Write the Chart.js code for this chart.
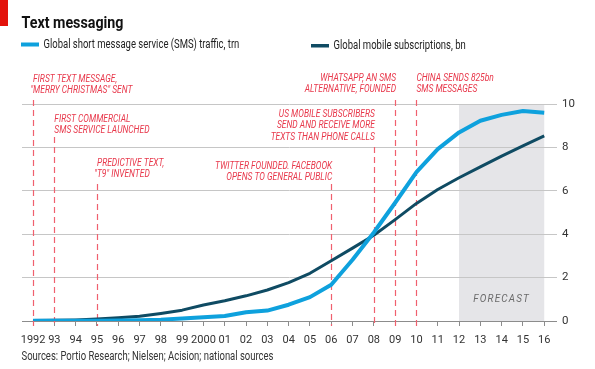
<!DOCTYPE html>
<html>
<head>
<meta charset="utf-8">
<script src="https://cdn.jsdelivr.net/npm/chart.js@4.4.1/dist/chart.umd.min.js"></script>
<style>
  html, body { margin: 0; padding: 0; background: #fff; }
  #wrap { position: relative; width: 595px; height: 369px; }
</style>
</head>
<body>
<div id="wrap"><canvas id="myChart" width="595" height="369"></canvas></div>
<script>
// data
const years = ['1992', '93', '94', '95', '96', '97', '98', '99', '2000', '01', '02', '03', '04',
  '05', '06', '07', '08', '09', '10', '11', '12', '13', '14', '15', '16'];
const smsTraffic = [0.01, 0.01, 0.01, 0.01, 0.02, 0.03, 0.06, 0.12, 0.17, 0.23, 0.4, 0.48, 0.75,
  1.1, 1.67, 2.82, 4.08, 5.45, 6.86, 7.92, 8.69, 9.23, 9.5, 9.68, 9.6];
const subscriptions = [0.02, 0.03, 0.05, 0.09, 0.15, 0.22, 0.35, 0.5, 0.74, 0.93, 1.16, 1.43, 1.77,
  2.2, 2.78, 3.36, 3.95, 4.67, 5.42, 6.06, 6.6, 7.1, 7.6, 8.07, 8.53];
const yTicks = [0, 2, 4, 6, 8, 10];
const forecastFrom = 20; // 2012
const forecastTo = 24;   // 2016

const events = [
  { year: 0, align: 'left', lines: ['FIRST TEXT MESSAGE,', '"MERRY CHRISTMAS" SENT'] },
  { year: 1, align: 'left', lines: ['FIRST COMMERCIAL', 'SMS SERVICE LAUNCHED'] },
  { year: 3, align: 'left', lines: ['PREDICTIVE TEXT,', '"T9" INVENTED'] },
  { year: 14, align: 'right', lines: ['TWITTER FOUNDED. FACEBOOK', 'OPENS TO GENERAL PUBLIC'] },
  { year: 16, align: 'right', lines: ['US MOBILE SUBSCRIBERS', 'SEND AND RECEIVE MORE', 'TEXTS THAN PHONE CALLS'] },
  { year: 17, align: 'right', lines: ['WHATSAPP, AN SMS', 'ALTERNATIVE, FOUNDED'] },
  { year: 18, align: 'left', lines: ['CHINA SENDS 825bn', 'SMS MESSAGES'] }
];
// where each dashed line starts and where its first text line sits
const eventLineTop = [100, 137, 184, 184, 147, 100, 100];
const eventTextY = [79, 119, 163, 166, 114, 78, 78];

const FONT = "Roboto, 'DejaVu Sans', sans-serif";
const SMS_COL = '#0ea1dd';
const SUB_COL = '#0f4b63';
const RED = '#e8384b';

// the original face is a narrow one, so squeeze text sideways
function squeezed(ctx, text, x, y, sx, align) {
  ctx.save();
  ctx.translate(x, y);
  ctx.scale(sx, 1);
  ctx.textAlign = align || 'left';
  ctx.fillText(text, 0, 0);
  ctx.restore();
}

const decor = {
  id: 'decor',
  beforeDraw(chart) {
    const ctx = chart.ctx, x = chart.scales.x, y = chart.scales.y;
    ctx.save();
    ctx.fillStyle = '#e5e5e8';
    const x0 = x.getPixelForValue(forecastFrom), x1 = x.getPixelForValue(forecastTo);
    const y0 = y.getPixelForValue(10), y1 = y.getPixelForValue(0);
    ctx.fillRect(x0, y0, x1 - x0, y1 - y0);
    ctx.restore();
  },
  beforeDatasetsDraw(chart) {
    const ctx = chart.ctx, x = chart.scales.x, y = chart.scales.y;
    ctx.save();
    ctx.strokeStyle = '#f0606e';
    ctx.lineWidth = 1.2;
    ctx.setLineDash([6, 4]);
    events.forEach((ev, i) => {
      const px = Math.round(x.getPixelForValue(ev.year)) + 0.5;
      ctx.beginPath();
      ctx.moveTo(px, eventLineTop[i]);
      ctx.lineTo(px, y.getPixelForValue(0) + 5);
      ctx.stroke();
    });
    ctx.restore();
  },
  afterDraw(chart) {
    const ctx = chart.ctx, x = chart.scales.x;
    ctx.save();
    // red tab + title
    ctx.fillStyle = '#e3120b';
    ctx.fillRect(0, 0, 8, 26);
    ctx.fillStyle = '#111';
    ctx.font = 'bold 17px ' + FONT;
    ctx.textBaseline = 'alphabetic';
    const titleSx = 102 / ctx.measureText('Text messaging').width;
    squeezed(ctx, 'Text messaging', 21.5, 27.5, titleSx);

    // legend
    ctx.font = '12px ' + FONT;
    ctx.textBaseline = 'middle';
    const src = 'Sources: Portio Research; Nielsen; Acision; national sources';
    const bodySx = 252 / ctx.measureText(src).width;
    ctx.fillStyle = SMS_COL;
    ctx.fillRect(21, 42.5, 18, 4);
    ctx.fillStyle = '#222';
    squeezed(ctx, 'Global short message service (SMS) traffic, trn', 43.5, 44.5, bodySx);
    ctx.fillStyle = SUB_COL;
    ctx.fillRect(311, 44, 18, 3.5);
    ctx.fillStyle = '#222';
    squeezed(ctx, 'Global mobile subscriptions, bn', 333.5, 45.5, bodySx);

    // source
    ctx.fillStyle = '#333';
    squeezed(ctx, src, 21.5, 356.5, bodySx);

    // annotations
    ctx.font = 'italic 10px ' + FONT;
    ctx.fillStyle = RED;
    const noteSx = 84 / ctx.measureText('FIRST TEXT MESSAGE,').width;
    events.forEach((ev, i) => {
      const px = x.getPixelForValue(ev.year);
      ev.lines.forEach((ln, j) => {
        let tx = ev.align === 'left' ? px : px + 1;
        if (ev.align === 'left' && ln.startsWith('"')) tx -= ctx.measureText('"').width * noteSx;
        squeezed(ctx, ln, tx, eventTextY[i] + j * 11.8, noteSx, ev.align);
      });
    });

    // forecast label
    ctx.font = 'italic 11px ' + FONT;
    ctx.fillStyle = '#6b6b6b';
    ctx.letterSpacing = '1.3px';
    squeezed(ctx, 'FORECAST', (x.getPixelForValue(forecastFrom) + x.getPixelForValue(forecastTo)) / 2, 299, 0.9, 'center');
    ctx.restore();
  }
};

const ctx = document.getElementById('myChart').getContext('2d');
const chart = new Chart(ctx, {
  type: 'line',
  data: {
    datasets: [{
      label: 'Global short message service (SMS) traffic, trn',
      data: smsTraffic.map((v, i) => ({ x: i, y: v })),
      borderColor: SMS_COL,
      borderWidth: 4,
      pointRadius: 0,
      tension: 0,
      borderJoinStyle: 'round'
    }, {
      label: 'Global mobile subscriptions, bn',
      data: subscriptions.map((v, i) => ({ x: i, y: v })),
      borderColor: SUB_COL,
      borderWidth: 3,
      pointRadius: 0,
      tension: 0,
      borderJoinStyle: 'round'
    }]
  },
  options: {
    responsive: false,
    animation: false,
    devicePixelRatio: 1,
    layout: { padding: { left: 22, top: 104, right: 0, bottom: 0 } },
    plugins: { legend: { display: false }, title: { display: false }, tooltip: { enabled: false } },
    scales: {
      x: {
        type: 'linear',
        min: -0.52,
        max: 24.6,
        afterBuildTicks: s => { s.ticks = years.map((_, i) => ({ value: i })); },
        afterFit: s => { s.height = 48; },
        border: { display: false },
        grid: { drawOnChartArea: false, drawTicks: true, tickLength: 5, color: '#8c8c8c' },
        ticks: {
          autoSkip: false, maxRotation: 0, padding: 8,
          color: '#333', font: { family: FONT, size: 11 },
          callback: v => years[v]
        }
      },
      y: {
        position: 'right',
        min: 0,
        max: 10,
        afterBuildTicks: s => { s.ticks = yTicks.map(v => ({ value: v })); },
        afterFit: s => { s.width = 38; },
        border: { display: false },
        grid: {
          drawTicks: false,
          color: c => (c.tick && c.tick.value === 0 ? '#8c8c8c' : '#c6c6c6')
        },
        ticks: { padding: 5, color: '#333', font: { family: FONT, size: 11.5 } }
      }
    }
  },
  plugins: [decor]
});
</script>
</body>
</html>
